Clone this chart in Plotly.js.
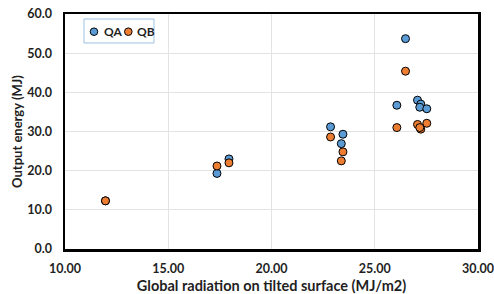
<!DOCTYPE html>
<html><head><meta charset="utf-8">
<script src="https://cdn.plot.ly/plotly-3.0.1.min.js"></script>
<style>html,body{margin:0;padding:0;background:#fff;}#chart{width:494px;height:294px;}</style>
</head><body><div id="chart"></div>
<script>
const qaX = [11.96, 17.36, 17.94, 22.86, 23.46, 23.38, 26.49, 26.07, 27.07, 27.23, 27.18, 27.52];
const qaY = [12.3, 19.3, 23.0, 31.2, 29.3, 26.9, 53.7, 36.7, 38.0, 37.0, 36.2, 35.8];
const qbX = [11.96, 17.36, 17.94, 22.86, 23.46, 23.38, 26.49, 26.07, 27.07, 27.23, 27.52, 27.18];
const qbY = [12.3, 21.2, 22.0, 28.6, 24.8, 22.5, 45.4, 31.0, 31.8, 30.6, 32.1, 31.0];
const seriesNames = ['QA', 'QB'];
const colors = ['#5B9BD5', '#ED7D31'];
const font = "Lato, 'Open Sans', sans-serif";
const col = '#1f1f1f';
const mk = c => ({size: 8, color: c, line: {color: '#000', width: 1}});

// compact legend (paper coordinates)
const legY = 0.9247;
const symX = [0.0702, 0.1533];
const txtX = [0.0896, 0.1695];
const shapes = [{type: 'rect', xref: 'paper', yref: 'paper', x0: 0.046, x1: 0.2155, y0: 0.8766, y1: 0.9787,
  line: {color: '#9DC3E6', width: 1}, fillcolor: '#fff', layer: 'above'}];
const annotations = [];
seriesNames.forEach((n, i) => {
  shapes.push({type: 'circle', xref: 'paper', yref: 'paper', xsizemode: 'pixel', ysizemode: 'pixel',
    xanchor: symX[i], yanchor: legY, x0: -3.8, x1: 3.8, y0: -3.8, y1: 3.8,
    fillcolor: colors[i], line: {color: '#000', width: 1}, layer: 'above'});
  annotations.push({xref: 'paper', yref: 'paper', x: txtX[i], y: legY, xanchor: 'left', yanchor: 'middle',
    text: n, showarrow: false, font: {family: font, size: 12, weight: 'bold', color: col}});
});

Plotly.newPlot('chart', [
  {x: qaX, y: qaY, name: seriesNames[0], type: 'scatter', mode: 'markers', marker: mk(colors[0])},
  {x: qbX, y: qbY, name: seriesNames[1], type: 'scatter', mode: 'markers', marker: mk(colors[1])}
], {
  width: 494, height: 294,
  margin: {l: 65, r: 16, t: 14, b: 45},
  paper_bgcolor: '#fff', plot_bgcolor: '#fff',
  font: {family: font, size: 13, color: col},
  showlegend: false,
  shapes: shapes, annotations: annotations,
  xaxis: {range: [10, 30], dtick: 5, tickformat: '.2f', showline: true, linecolor: '#000', linewidth: 2.5, mirror: true,
    showgrid: true, gridcolor: '#e3e3e3', zeroline: false, ticks: '', ticklabelstandoff: 6, ticklabeloverflow: 'allow',
    tickfont: {family: font, size: 12.5, weight: 'bold', color: col},
    title: {text: 'Global radiation on tilted surface (MJ/m2)', font: {family: font, size: 14.5, weight: 'bold', color: col}, standoff: 7}},
  yaxis: {range: [0, 60], dtick: 10, tickformat: '.1f', showline: true, linecolor: '#000', linewidth: 2.5, mirror: true,
    showgrid: true, gridcolor: '#e3e3e3', zeroline: false, ticks: '', ticklabelstandoff: 8,
    tickfont: {family: font, size: 12.5, weight: 'bold', color: col},
    title: {text: 'Output energy (MJ)', font: {family: font, size: 13, weight: 'bold', color: col}, standoff: 2}}
}, {displayModeBar: false, staticPlot: true});
</script></body></html>
